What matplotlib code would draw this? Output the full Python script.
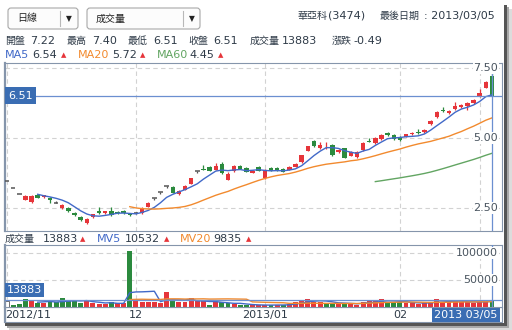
import numpy as np
import pandas as pd
import matplotlib
matplotlib.use('Agg')
import matplotlib.pyplot as plt
import matplotlib.transforms as mtransforms
from matplotlib.patches import Rectangle, FancyBboxPatch

plt.rcParams['font.family'] = ['DejaVu Sans', 'Noto Sans CJK TC']
plt.rcParams['font.size'] = 8

# 華亞科 (3474) daily bars, 2012/11 - 2013/03/05
opens = [3.46, 3.22, 3.00, 2.79, 2.71, 2.96, 2.89, 2.86, 2.68, 2.50,
         2.50, 2.32, 2.18, 1.96, 2.18, 2.39, 2.32, 2.39, 2.36, 2.39,
         2.29, 2.32, 2.32, 2.54, 2.87, 3.07, 3.28, 3.25, 3.01, 3.15,
         3.36, 3.82, 3.90, 3.97, 3.86, 4.07, 3.51, 3.82, 4.01, 3.93,
         3.76, 3.97, 3.58, 3.93, 3.93, 3.90, 3.86, 3.97, 4.14, 4.54,
         4.89, 4.64, 4.70, 4.75, 4.50, 4.64, 4.36, 4.32, 4.57, 4.90,
         4.82, 4.96, 5.18, 5.11, 5.04, 5.04, 5.14, 5.21, 5.21, 5.50,
         5.75, 6.00, 5.89, 6.02, 6.10, 6.14, 6.25, 6.48, 6.79, 7.22]
highs = [3.46, 3.22, 3.00, 2.95, 2.95, 3.00, 2.98, 2.89, 2.75, 2.63,
         2.52, 2.34, 2.20, 2.13, 2.30, 2.54, 2.41, 2.54, 2.40, 2.42,
         2.33, 2.34, 2.52, 2.70, 2.87, 3.07, 3.28, 3.30, 3.13, 3.31,
         3.58, 3.82, 4.04, 4.01, 4.10, 4.14, 3.77, 4.02, 4.03, 3.95,
         3.85, 3.99, 3.88, 3.95, 3.95, 3.92, 3.99, 4.10, 4.41, 4.73,
         4.92, 4.85, 4.85, 4.78, 4.60, 4.66, 4.52, 4.52, 4.84, 5.00,
         5.02, 5.13, 5.20, 5.13, 5.06, 5.16, 5.20, 5.32, 5.31, 5.63,
         5.95, 6.10, 5.99, 6.30, 6.20, 6.27, 6.38, 6.76, 7.02, 7.40]
lows = [3.46, 3.22, 3.00, 2.77, 2.68, 2.84, 2.87, 2.68, 2.68, 2.48,
        2.37, 2.23, 2.05, 1.94, 2.16, 2.30, 2.30, 2.23, 2.30, 2.30,
        2.20, 2.30, 2.30, 2.52, 2.80, 3.00, 3.20, 3.02, 2.97, 3.13,
        3.34, 3.74, 3.85, 3.81, 3.84, 3.73, 3.49, 3.80, 3.88, 3.77,
        3.74, 3.81, 3.55, 3.81, 3.81, 3.77, 3.84, 3.95, 4.12, 4.52,
        4.69, 4.62, 4.60, 4.37, 4.48, 4.27, 4.34, 4.30, 4.55, 4.84,
        4.80, 4.94, 5.07, 4.94, 4.91, 5.02, 5.12, 5.16, 5.19, 5.48,
        5.73, 5.93, 5.87, 6.00, 6.08, 6.00, 6.23, 6.46, 6.77, 6.51]
closes = [3.46, 3.22, 3.00, 2.93, 2.94, 2.86, 2.96, 2.79, 2.68, 2.61,
          2.39, 2.25, 2.07, 2.11, 2.29, 2.32, 2.39, 2.25, 2.32, 2.32,
          2.25, 2.32, 2.50, 2.68, 2.87, 3.07, 3.28, 3.04, 3.11, 3.29,
          3.57, 3.82, 3.87, 3.83, 4.00, 3.75, 3.72, 4.00, 3.90, 3.79,
          3.83, 3.83, 3.86, 3.83, 3.83, 3.79, 3.97, 4.08, 4.39, 4.71,
          4.71, 4.75, 4.72, 4.39, 4.57, 4.29, 4.50, 4.50, 4.82, 4.86,
          5.00, 5.11, 5.09, 4.96, 4.93, 5.14, 5.18, 5.18, 5.29, 5.61,
          5.93, 5.95, 5.97, 6.14, 6.18, 6.25, 6.36, 6.60, 7.00, 6.51]
volumes = [12000, 3500, 5500, 15000, 13000, 7500, 7000, 9000, 9500, 17000,
           11000, 11500, 7000, 13000, 7000, 5500, 5000, 9000, 7500, 7000,
           104000, 12000, 10000, 10000, 10000, 7500, 28000, 11000, 9000, 9500,
           16000, 11000, 10500, 4000, 9000, 9000, 6500, 5500, 4000, 3000,
           3500, 3500, 4000, 3500, 4000, 3500, 5500, 10000, 13000, 15000,
           10000, 10000, 7500, 5500, 5500, 7500, 7500, 4000, 9500, 13000,
           10500, 15000, 9000, 9000, 9000, 7500, 7500, 5500, 7500, 9500,
           14000, 10000, 10000, 11000, 9042, 9000, 8000, 10000, 11775, 13883]

# bar index of the first trading day in each month
month_pos = [0, 21, 42, 64, 77]
month_labels = ['2012/11', '12', '2013/01', '02', '']
price_ticks = [2.50, 5.00, 7.50]
vol_ticks = [50000, 100000]
last_date = '2013/03/05'

RED = '#e6353a'
GRN = '#2b8a3e'
C_MA5 = '#4169c8'
C_MA20 = '#f28a2e'
C_MA60 = '#62a562'
BOX = '#3a6db3'
CUR = '#6b8fd0'
FRAME = '#8595ab'
TXT = '#2f3b48'
GRID = '#d2d2d2'
CJK = 7.2

W, H = 512, 330
fig = plt.figure(figsize=(W / 100, H / 100), dpi=100)
fig.patch.set_facecolor('white')


def px_rect(x0, y0, x1, y1):
    return [x0 / W, 1 - y1 / H, (x1 - x0) / W, (y1 - y0) / H]


# pixel-space layer for headers, dropdowns and the frame shadow
bg = fig.add_axes([0, 0, 1, 1])
bg.set_xlim(0, W)
bg.set_ylim(H, 0)
bg.axis('off')

ax = fig.add_axes(px_rect(5, 63, 502, 231))
vax = fig.add_axes(px_rect(5, 245, 502, 307))

x = np.arange(len(closes))
o, hi, lo, c = (np.array(a) for a in (opens, highs, lows, closes))
vol = np.array(volumes, dtype=float)

xmin = -0.326
xmax = xmin + 497 / 6.139

for a in (ax, vax):
    a.set_xlim(xmin, xmax)
    a.set_xticks([])
    a.set_yticks([])
    for s in a.spines.values():
        s.set_color(FRAME)
        s.set_linewidth(0.8)
    a.spines['left'].set_linewidth(1.6)
    for m in month_pos:
        a.axvline(m, color=GRID, lw=0.8, ls=(0, (4, 3)), zorder=0)
    a.axvline(x[-1], color=CUR, lw=0.9, zorder=6)

ax.set_ylim(1.679, 7.679)
vax.set_ylim(0, 114815)

# price panel
for v in price_ticks:
    ax.axhline(v, color=GRID, lw=0.8, ls=(0, (4, 3)), zorder=0)
ylab = mtransforms.blended_transform_factory(ax.transAxes, ax.transData)
for v in price_ticks:
    ax.text(0.992, v, f'{v:.2f}', transform=ylab, ha='right', va='center',
            color='#4a5560', fontsize=8, zorder=7,
            bbox=dict(fc='white', ec='none', pad=0.5))

up = c > o
down = c < o
flat = c == o
col = np.where(up, RED, np.where(down, GRN, '#555555'))
ax.vlines(x, lo, hi, colors=col, lw=0.9, zorder=2)
body = ~flat
ax.bar(x[body], np.maximum(np.abs(c - o), 0.03)[body], bottom=np.minimum(o, c)[body],
       width=0.72, color=col[body], linewidth=0, zorder=3)
ax.hlines(c[flat], x[flat] - 0.38, x[flat] + 0.38, colors='#555555', lw=1.1, zorder=3)

s_close = pd.Series(closes)
ma = {}
for w, colr in [(5, C_MA5), (20, C_MA20), (60, C_MA60)]:
    ma[w] = s_close.rolling(w).mean()
    ax.plot(x[w:], ma[w].values[w:], color=colr, lw=1.0, zorder=4)

ax.axhline(c[-1], color=CUR, lw=0.9, zorder=5)
ax.text(0.006, c[-1], f'{c[-1]:.2f}', transform=ylab, ha='left', va='center',
        color='white', fontsize=8, zorder=8,
        bbox=dict(boxstyle='square,pad=0.3', fc=BOX, ec='none'))

# volume panel
for v in vol_ticks:
    vax.axhline(v, color=GRID, lw=0.8, ls=(0, (4, 3)), zorder=0)
vlab = mtransforms.blended_transform_factory(vax.transAxes, vax.transData)
for v in vol_ticks:
    vax.text(0.992, v, f'{v}', transform=vlab, ha='right', va='center',
             color='#4a5560', fontsize=8, zorder=7,
             bbox=dict(fc='white', ec='none', pad=0.5))

prev = np.r_[np.nan, c[:-1]]
vcol = np.where(c >= prev, RED, GRN).astype(object)
vcol[0] = 'white'
vax.bar(x, vol, width=0.8, color=list(vcol), linewidth=0, zorder=2)
vax.bar(x[:1], vol[:1], width=0.8, color='white', edgecolor='#555555', linewidth=0.6, zorder=2)

s_vol = pd.Series(vol)
mv = {}
for w, colr in [(5, C_MA5), (20, C_MA20)]:
    mv[w] = s_vol.rolling(w).mean()
    vax.plot(x[w:], mv[w].values[w:], color=colr, lw=1.0, zorder=3)

vax.axhline(vol[-1], color=CUR, lw=0.9, zorder=4)
vax.text(0.004, 0.274, f'{vol[-1]:.0f}', transform=vax.transAxes, ha='left', va='center',
         color='white', fontsize=8, zorder=8,
         bbox=dict(boxstyle='square,pad=0.2', fc=BOX, ec='none'))

# date strip under the volume panel
bg.add_patch(Rectangle((5, 307), 497, 15, fill=False, ec=FRAME, lw=0.8))
bg.plot([5, 5], [307, 322], color=FRAME, lw=1.6)
dlab = mtransforms.blended_transform_factory(vax.transData, vax.transAxes)
for k, (m, lab) in enumerate(zip(month_pos, month_labels)):
    if k == 0:
        vax.text(xmin, -0.13, lab, transform=dlab, ha='left', va='center', color=TXT)
    else:
        vax.text(m, -0.13, lab, transform=dlab, ha='center', va='center', color=TXT)
bg.add_patch(Rectangle((432, 307.5), 68, 14.5, fc=BOX, ec='none', zorder=5))
bg.text(466, 315, last_date[:4] + ' ' + last_date[5:], ha='center', va='center',
        color='white', zorder=6)


def put(px, py, s, color=TXT, size=8, ha='left'):
    bg.text(px, py, s, color=color, fontsize=size, ha=ha, va='center')


def tri(px, py):
    put(px, py + 0.5, '▲', RED, 5)


# dropdowns
for x0, x1, div, label in [(8, 78, 60, '日線'), (87, 200, 183, '成交量')]:
    bg.add_patch(FancyBboxPatch((x0, 8), x1 - x0, 21, boxstyle='round,pad=0,rounding_size=3',
                                fc='#fcfcfc', ec='#a8a8a8', lw=0.8))
    bg.plot([div, div], [11, 26], color='#b8b8b8', lw=0.8)
    put(x0 + 9, 18.5, label, '#222222', CJK)
    put((div + x1) / 2, 18.5, '▼', '#222222', 5.5, ha='center')

put(297, 16, '華亞科', size=CJK)
put(328, 16, '(3474)')
put(420, 16, '最後日期', size=CJK, ha='right')
put(495, 16, ': ' + last_date, ha='right')

# quote line
chg = c[-1] - c[-2]
quote = [('開盤', 5, f'{o[-1]:.2f}', 30), ('最高', 67, f'{hi[-1]:.2f}', 92),
         ('最低', 128, f'{lo[-1]:.2f}', 153), ('收盤', 188, f'{c[-1]:.2f}', 213),
         ('成交量', 250, f'{vol[-1]:.0f}', 282), ('漲跌', 332, f'{chg:.2f}', 353)]
for name, nx, val, vx in quote:
    put(nx, 41, name, size=CJK)
    put(vx, 41, val)

# moving-average legend rows
for name, colr, nx, val, vx, tx in [('MA5', C_MA5, 5, ma[5].iloc[-1], 32, 61),
                                    ('MA20', C_MA20, 78, ma[20].iloc[-1], 112, 140),
                                    ('MA60', C_MA60, 157, ma[60].iloc[-1], 189, 218)]:
    put(nx, 55, name, colr)
    put(vx, 55, f'{val:.2f}')
    tri(tx, 55)

put(5, 239, '成交量', size=CJK)
put(43, 239, f'{vol[-1]:.0f}')
tri(80, 239)
for name, colr, nx, val, vx, tx in [('MV5', C_MA5, 97, mv[5].iloc[-1], 125, 164),
                                    ('MV20', C_MA20, 180, mv[20].iloc[-1], 213, 246)]:
    put(nx, 239, name, colr)
    put(vx, 239, f'{val:.0f}')
    tri(tx, 239)

# drop shadow along the right and bottom edges
bg.add_patch(Rectangle((504, 5), 3, 321, fc='#555555', ec='none'))
bg.add_patch(Rectangle((507, 7), 2, 321, fc='#a8a8a8', ec='none'))
bg.add_patch(Rectangle((509, 9), 3, 321, fc='#dcdcdc', ec='none'))
bg.add_patch(Rectangle((5, 323), 502, 3, fc='#555555', ec='none'))
bg.add_patch(Rectangle((7, 326), 502, 2, fc='#a8a8a8', ec='none'))
bg.add_patch(Rectangle((9, 328), 503, 2, fc='#dcdcdc', ec='none'))

fig.savefig('out.png', dpi=100, facecolor='white')
